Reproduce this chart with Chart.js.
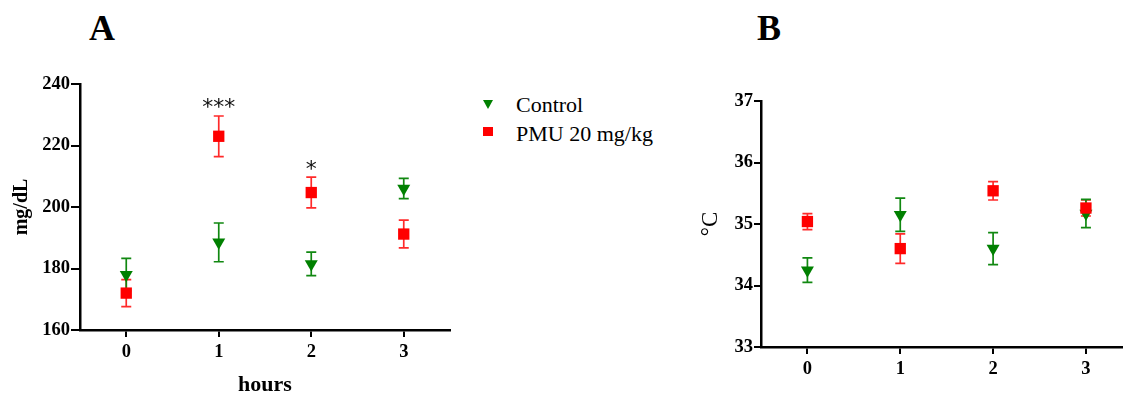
<!DOCTYPE html>
<html>
<head>
<meta charset="utf-8">
<script src="https://cdn.jsdelivr.net/npm/chart.js@4.4.1/dist/chart.umd.min.js"></script>
<style>
  html, body { margin: 0; padding: 0; background: #fff; }
  body { width: 1123px; height: 396px; position: relative; overflow: hidden; }
  .cv { position: absolute; top: 0; }
  .letter { position: absolute; font-family: "Liberation Serif", serif; font-weight: bold; font-size: 36px; line-height: 36px; color: #000; }
  .leg { position: absolute; font-family: "Liberation Serif", serif; font-size: 22px; line-height: 22px; color: #000; white-space: nowrap; }
  .tri { position: absolute; width: 0; height: 0; border-left: 5px solid transparent; border-right: 5px solid transparent; border-top: 9px solid #008000; }
  .sq { position: absolute; width: 10px; height: 9px; background: #ff0000; }
</style>
</head>
<body>
<div class="letter" style="left:89px; top:10px;">A</div>
<div class="letter" style="left:757px; top:10px;">B</div>
<div class="cv" style="left:0px; width:460px; height:396px;"><canvas id="chartA"></canvas></div>
<div class="cv" style="left:680px; width:452px; height:396px;"><canvas id="chartB"></canvas></div>
<div class="tri" style="left:483px; top:100px;"></div>
<div class="leg" style="left:516px; top:94px;">Control</div>
<div class="sq" style="left:483px; top:127px;"></div>
<div class="leg" style="left:516px; top:123px;">PMU 20 mg/kg</div>
<script>
const hours = [0, 1, 2, 3];
const hourLabels = ['0', '1', '2', '3'];
const glucoseControl = [178, 188.5, 181.5, 206];
const glucoseControlErr = [5.3, 6.3, 3.8, 3.3];
const glucosePMU = [172, 223, 204.7, 191.2];
const glucosePMUErr = [4.4, 6.6, 5.0, 4.5];
const glucoseStars = ['', '***', '*', ''];
const glucoseTicks = [160, 180, 200, 220, 240];
const tempControl = [34.25, 35.15, 34.6, 35.17];
const tempControlErr = [0.2, 0.27, 0.26, 0.23];
const tempPMU = [35.04, 34.6, 35.54, 35.26];
const tempPMUErr = [0.13, 0.24, 0.15, 0.13];
const tempTicks = [33, 34, 35, 36, 37];
const seriesNames = ['Control', 'PMU 20 mg/kg'];

const GREEN = '#008000';
const RED = '#ff0000';
const tickFont = { family: 'Liberation Serif', weight: 'bold', size: 18.5 };

function pts(vals) { return hours.map((h, i) => ({ x: h, y: vals[i] })); }

const errorBars = {
  id: 'errorBars',
  beforeDatasetsDraw(chart) {
    const ctx = chart.ctx;
    const xs = chart.scales.x, ys = chart.scales.y;
    chart.data.datasets.forEach(ds => {
      if (!ds.errors) return;
      ctx.save();
      ctx.strokeStyle = ds.errColor;
      ctx.lineWidth = 1.7;
      ds.data.forEach((p, i) => {
        const e = ds.errors[i];
        const px = xs.getPixelForValue(p.x);
        const top = ys.getPixelForValue(p.y + e);
        const bot = ys.getPixelForValue(p.y - e);
        ctx.beginPath();
        ctx.moveTo(px, top); ctx.lineTo(px, bot);
        ctx.moveTo(px - 5, top); ctx.lineTo(px + 5, top);
        ctx.moveTo(px - 5, bot); ctx.lineTo(px + 5, bot);
        ctx.stroke();
      });
      ctx.restore();
    });
  },
  afterDatasetsDraw(chart) {
    const stars = chart.options.plugins.errorBars && chart.options.plugins.errorBars.stars;
    if (!stars) return;
    const ctx = chart.ctx;
    const xs = chart.scales.x, ys = chart.scales.y;
    const ds = chart.data.datasets.find(d => d.starRef);
    ctx.save();
    ctx.fillStyle = '#111';
    ctx.font = '22px "DejaVu Sans"';
    ctx.textAlign = 'center';
    ctx.textBaseline = 'alphabetic';
    stars.forEach((s, i) => {
      if (!s) return;
      const p = ds.data[i];
      const px = xs.getPixelForValue(p.x);
      const top = ys.getPixelForValue(p.y + ds.errors[i]);
      ctx.fillText(s, px, top - 12 + 10.5);
    });
    ctx.restore();
  }
};

function makeChart(id, cfg) {
  return new Chart(document.getElementById(id), {
    type: 'scatter',
    data: {
      datasets: [
        {
          label: seriesNames[1], data: pts(cfg.pmu), errors: cfg.pmuErr, errColor: '#ff2a2a', starRef: true,
          backgroundColor: RED, borderColor: RED, pointStyle: 'rect', pointRadius: 8, pointHoverRadius: 8, borderWidth: 0, order: 0
        },
        {
          label: seriesNames[0], data: pts(cfg.ctrl), errors: cfg.ctrlErr, errColor: '#118811',
          backgroundColor: GREEN, borderColor: GREEN, pointStyle: 'triangle', rotation: 180, pointRadius: 7.5, pointHoverRadius: 7.5, borderWidth: 0, order: 1
        }
      ]
    },
    options: {
      responsive: true, maintainAspectRatio: false, animation: false,
      layout: { padding: { top: cfg.padTop, right: cfg.padRight, bottom: 0, left: 0 } },
      plugins: { legend: { display: false }, tooltip: { enabled: false }, errorBars: { stars: cfg.stars } },
      scales: {
        x: {
          type: 'linear', min: -0.5, max: cfg.xMax,
          afterBuildTicks: s => { s.ticks = hours.map(v => ({ value: v })); },
          afterFit: s => { s.height = cfg.xHeight; },
          ticks: { callback: (v) => hourLabels[hours.indexOf(v)] ?? '', font: tickFont, color: '#000', padding: 4, maxRotation: 0 },
          grid: { drawOnChartArea: false, drawTicks: true, tickLength: 7, color: '#000', lineWidth: 2 },
          border: { display: true, color: '#000', width: 2.5 },
          title: cfg.xTitle
        },
        y: {
          type: 'linear', min: cfg.yTicks[0], max: cfg.yTicks[cfg.yTicks.length - 1],
          afterBuildTicks: s => { s.ticks = cfg.yTicks.map(v => ({ value: v })); },
          afterFit: s => { s.width = cfg.yWidth; },
          ticks: { font: tickFont, color: '#000', padding: 1 },
          grid: { drawOnChartArea: false, drawTicks: true, tickLength: cfg.yTickLen, color: '#000', lineWidth: 2 },
          border: { display: true, color: '#000', width: 2.5 },
          title: cfg.yTitle
        }
      }
    },
    plugins: [errorBars]
  });
}

makeChart('chartA', {
  ctrl: glucoseControl, ctrlErr: glucoseControlErr, pmu: glucosePMU, pmuErr: glucosePMUErr,
  stars: glucoseStars, yTicks: glucoseTicks, padTop: 84, padRight: 10, xMax: 3.5, xHeight: 66, yWidth: 80, yTickLen: 9,
  xTitle: { display: true, text: 'hours', color: '#000', font: { family: 'Liberation Serif', weight: 'bold', size: 22 }, padding: { top: 0, bottom: -3 } },
  yTitle: { display: true, text: 'mg/dL', color: '#000', font: { family: 'Liberation Serif', weight: 'bold', size: 20 }, padding: { top: 10, bottom: 0 } }
});

makeChart('chartB', {
  ctrl: tempControl, ctrlErr: tempControlErr, pmu: tempPMU, pmuErr: tempPMUErr,
  stars: null, yTicks: tempTicks, padTop: 101, padRight: 0, xMax: 3.41, xHeight: 49, yWidth: 81, yTickLen: 7,
  xTitle: { display: false },
  yTitle: { display: true, text: '°C', color: '#000', font: { family: 'Liberation Serif', weight: 'normal', size: 23 }, padding: { top: 17, bottom: 0 } }
});
</script>
</body>
</html>
